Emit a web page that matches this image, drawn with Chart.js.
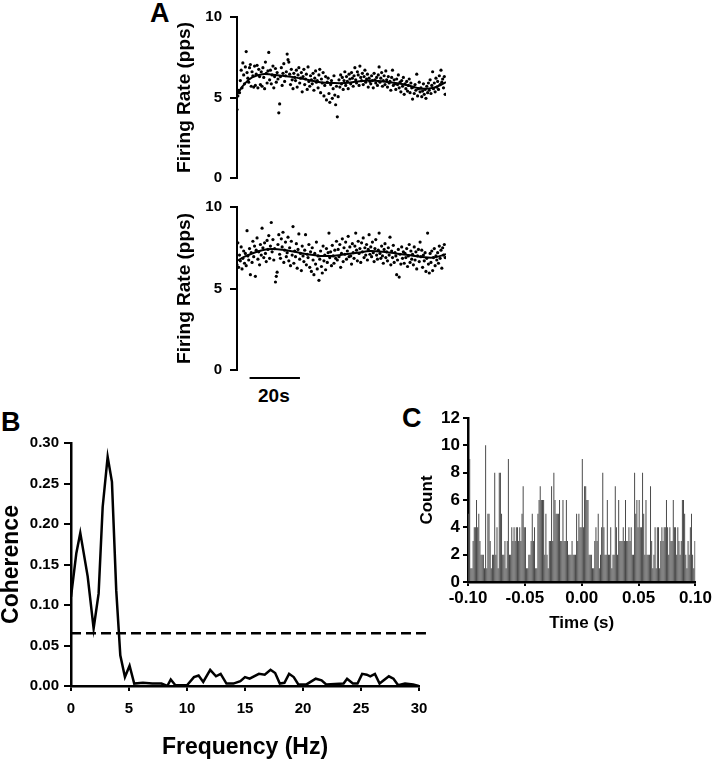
<!DOCTYPE html>
<html><head><meta charset="utf-8">
<script src="https://cdn.jsdelivr.net/npm/chart.js@4.4.0/dist/chart.umd.min.js"></script>
<style>
body{margin:0;background:#fff;width:714px;height:759px;overflow:hidden;position:relative;font-family:'Liberation Sans',Arial,sans-serif;}
.box{position:absolute;}
.lbl{position:absolute;font-weight:bold;line-height:1;color:#000;white-space:nowrap;}
</style></head><body>
<div class="lbl" style="left:150px;top:0px;font-size:27px">A</div>
<div class="lbl" style="left:1px;top:409px;font-size:27px">B</div>
<div class="lbl" style="left:402px;top:405px;font-size:27px">C</div>
<div class="lbl" style="left:258px;top:386px;font-size:19px">20s</div>
<div class="box" style="left:140px;top:0px;width:320px;height:195px"><canvas id="a1" width="320" height="195"></canvas></div>
<div class="box" style="left:140px;top:190px;width:320px;height:200px"><canvas id="a2" width="320" height="200"></canvas></div>
<div class="box" style="left:0px;top:400px;width:440px;height:359px"><canvas id="b" width="440" height="359"></canvas></div>
<div class="box" style="left:400px;top:400px;width:314px;height:240px"><canvas id="c" width="314" height="240"></canvas></div>
<script>
// ---------- DATA ----------
const sampleStepA = 0.332; // seconds between firing-rate samples
const rateTop = [
4.25,5.10,5.45,5.30,6.05,6.70,5.60,7.15,6.40,5.85,
6.90,7.85,6.55,6.20,5.95,6.85,7.05,5.70,6.60,6.35,
5.65,6.95,5.75,6.45,7.00,5.60,6.75,6.30,5.80,6.60,
5.70,6.85,6.25,5.55,7.20,6.50,5.90,6.65,7.80,6.10,
6.70,5.85,6.40,6.95,5.60,6.30,6.80,5.95,6.55,6.15,
4.05,4.60,6.30,6.85,5.75,6.50,7.10,6.00,6.35,6.60,
7.70,7.35,7.20,6.45,5.80,6.75,6.10,5.55,6.50,6.25,
6.05,6.70,5.65,6.40,6.85,5.90,6.20,6.55,5.35,6.30,
6.75,5.80,6.15,6.45,5.50,6.90,6.00,5.70,6.35,6.10,
5.85,6.50,5.45,6.20,6.65,5.95,6.05,5.60,6.40,6.75,
5.30,6.15,5.90,6.55,5.10,5.75,6.30,4.85,5.95,6.20,
5.25,4.70,5.80,6.05,4.95,5.55,6.35,5.15,4.55,5.70,
3.80,5.05,6.10,5.65,6.40,5.85,6.25,5.50,6.05,6.60,
5.75,6.30,6.00,5.55,6.45,6.15,5.85,6.55,6.20,5.70,
6.35,6.85,6.10,5.90,6.60,6.40,5.75,6.95,6.25,6.05,
6.50,5.80,6.30,6.70,5.95,6.15,6.45,5.65,6.20,6.00,
5.85,6.35,6.05,5.60,6.50,6.10,5.90,6.25,5.75,6.40,
6.90,5.95,6.20,6.55,5.70,6.05,6.35,5.80,6.65,6.10,
5.65,6.30,5.90,6.00,5.45,6.25,6.70,5.75,6.10,5.85,
5.50,6.15,5.80,6.40,5.60,5.95,5.35,6.05,5.70,6.25,
5.20,5.85,5.55,6.00,5.40,5.75,6.15,5.30,5.90,5.60,
4.90,5.65,5.25,5.80,5.45,6.45,5.10,5.55,5.95,5.35,
5.60,5.05,5.40,5.85,5.20,5.50,4.95,5.70,5.30,5.90,
5.45,6.10,5.25,5.75,6.60,5.55,5.90,5.35,6.20,5.65,
6.00,5.50,6.35,5.80,6.70,5.95,6.15,5.60,6.30,5.20];
const rateBottom = [
6.45,7.80,6.30,7.05,6.70,7.55,6.20,6.85,7.30,6.55,
7.15,6.40,8.55,7.00,6.75,7.45,5.85,7.20,6.60,7.90,
6.95,7.60,5.75,7.35,8.10,6.80,7.25,6.45,7.70,7.05,
8.70,7.50,6.90,7.80,7.15,6.65,7.95,7.40,8.25,6.85,
7.60,9.05,7.25,8.00,6.75,7.45,5.40,5.75,6.00,7.70,
8.30,7.10,6.85,8.05,7.55,8.45,6.60,7.35,7.85,6.95,
7.20,8.15,6.70,7.50,6.40,7.90,7.05,8.80,6.55,7.30,
6.95,7.75,6.25,7.40,8.35,6.80,7.15,6.10,7.60,7.00,
6.65,7.35,8.30,6.45,7.10,6.90,7.70,6.30,7.25,6.05,
7.50,6.75,5.85,7.15,6.50,7.85,6.20,7.00,5.50,6.80,
7.30,6.35,5.95,7.60,6.70,7.05,6.15,7.45,6.60,7.20,
8.40,6.90,7.25,6.40,7.65,7.00,6.55,7.35,6.85,7.90,
6.75,7.40,6.95,7.70,6.30,7.15,8.05,6.65,7.50,7.10,
7.85,6.80,7.30,8.20,6.95,7.55,7.00,6.50,7.75,7.20,
6.85,7.60,8.40,7.35,6.70,7.90,7.15,7.45,6.60,7.80,
7.25,8.10,6.90,7.50,7.05,7.70,6.75,7.40,8.30,7.10,
7.55,6.95,7.85,7.20,6.65,7.45,8.00,7.05,6.80,7.35,
8.40,7.15,6.85,7.60,7.00,6.55,7.40,7.75,6.90,7.25,
6.70,7.50,7.05,8.15,6.45,7.30,6.90,7.65,6.60,7.20,
7.00,5.85,6.75,7.40,5.70,7.10,6.50,7.55,6.85,7.25,
6.55,7.15,6.90,7.45,6.35,7.00,7.70,6.60,7.30,6.80,
7.10,6.45,7.55,6.75,7.25,6.20,7.00,7.40,6.65,7.85,
6.95,7.35,6.30,7.05,6.70,7.20,6.05,6.85,8.40,6.50,
5.95,7.15,6.60,7.30,6.10,6.90,7.45,6.40,7.00,6.75,
7.20,6.55,7.60,6.85,7.35,6.25,7.50,7.05,7.70,6.90];
const trendTimes  = [0,3,6,10,14,18,23,28,33,38,43,48,53,58,63,68,73,78,83];
const trendTop    = [5.2,5.85,6.25,6.45,6.42,6.35,6.25,6.1,5.95,5.9,5.9,6.0,6.05,6.0,5.9,5.75,5.55,5.6,5.95];
const trendBottom = [6.7,6.95,7.15,7.35,7.42,7.38,7.25,7.1,7.0,7.0,7.1,7.2,7.3,7.25,7.15,7.05,6.95,6.9,7.1];
const rateTicks = [0,5,10];
const scaleBar = [5,25]; // seconds (20 s bar)

const cohFreq = [0,0.46,0.8,1.44,1.95,2.38,2.73,3.16,3.53,3.9,4.25,4.65,5.05,5.45,6.2,7.0,7.8,8.3,8.6,9.0,
 10.0,10.6,11.0,11.4,12.0,12.5,12.9,13.4,14.0,14.6,15.0,15.4,16.2,16.7,17.2,17.6,18.0,18.4,18.8,19.2,
 19.6,20.3,21.1,21.6,22.0,23.5,23.8,24.3,24.7,25.1,25.5,25.8,26.2,26.6,27.4,27.8,28.2,28.8,29.5,30];
const cohValues = [0.110,0.164,0.189,0.135,0.071,0.114,0.221,0.283,0.252,0.118,0.038,0.011,0.025,0.003,0.004,0.003,0.003,0.000,0.008,0.001,
 0.001,0.011,0.013,0.005,0.020,0.012,0.015,0.003,0.003,0.006,0.011,0.009,0.015,0.014,0.020,0.016,0.003,0.004,0.015,0.011,
 0.002,0.002,0.009,0.007,0.002,0.003,0.009,0.003,0.003,0.015,0.014,0.012,0.015,0.003,0.012,0.009,0.001,0.003,0.002,0.000];
const cohThreshold = 0.065;
const cohThresholdRange = [0, 30.6];

const histBinStart = -0.1, histBinWidth = 0.001;
const histCounts = [
5,9,1,1,3,4,4,6,4,5, 3,2,2,2,1,10,1,5,5,3, 1,2,2,8,2,4,1,8,8,5, 2,2,3,1,3,9,2,2,4,3,
4,3,4,4,3,4,3,5,7,4, 4,1,1,2,2,3,5,3,4,1, 1,5,6,7,6,6,6,2,5,2, 1,3,3,7,3,8,6,5,5,5,
6,3,3,6,3,3,6,3,2,2, 2,3,2,2,2,5,3,5,4,4, 9,4,7,7,6,6,2,2,2,1, 1,3,4,3,5,1,2,4,8,4,
2,2,6,2,2,4,1,2,2,7, 4,2,6,3,3,3,4,3,6,3, 3,4,3,4,2,2,8,5,6,4, 6,4,4,8,5,2,6,2,2,2,
7,3,1,2,4,1,4,4,1,3, 4,3,4,4,6,4,2,4,3,3, 6,4,4,2,4,3,2,3,6,6, 5,2,1,3,2,4,5,2,1,3];

// ---------- CHARTS ----------
const FF = "'Liberation Sans', Arial, sans-serif";
Chart.defaults.font.family = FF;
Chart.defaults.color = '#000';
Chart.defaults.animation = false;

function pts(xs, ys){ return ys.map((v,i)=>({x:xs[i], y:v})); }
const rateTimes = rateTop.map((_,i)=>i*sampleStepA);

function rateChart(id, rates, trend, withBar){
  const plugins = [];
  if (withBar) plugins.push({id:'scalebar', afterDraw(ch){
    const xs = ch.scales.x, ctx = ch.ctx;
    const y = ch.chartArea.bottom + 8;
    ctx.save(); ctx.strokeStyle='#000'; ctx.lineWidth=2;
    ctx.beginPath(); ctx.moveTo(xs.getPixelForValue(scaleBar[0]), y);
    ctx.lineTo(xs.getPixelForValue(scaleBar[1]), y); ctx.stroke(); ctx.restore();
  }});
  return new Chart(document.getElementById(id), {
    type:'scatter',
    data:{datasets:[
      {data:pts(rateTimes, rates), pointRadius:1.6, pointBackgroundColor:'#000', pointBorderWidth:0, showLine:false},
      {data:pts(trendTimes, trend), showLine:true, borderColor:'#000', borderWidth:2, pointRadius:0, tension:0.4, fill:false}
    ]},
    options:{
      responsive:false, events:[],
      layout:{padding:{left:0, top:14, right:14, bottom: withBar?20:15}},
      plugins:{legend:{display:false}, tooltip:{enabled:false}},
      scales:{
        x:{type:'linear', min:0, max:83, display:false},
        y:{min:0, max:10, afterBuildTicks(s){ s.ticks = rateTicks.map(v=>({value:v})); },
           afterFit(s){ s.width = 97; },
           ticks:{font:{size:15, weight:'bold'}, padding:8},
           grid:{display:true, drawOnChartArea:false, drawTicks:true, tickLength:7, color:'#000', lineWidth:2},
           border:{display:true, color:'#000', width:2},
           title:{display:true, text:'Firing Rate (pps)', font:{size:19, weight:'bold', lineHeight:1.0}, padding:{top:35, bottom:0}}
        }
      }
    },
    plugins
  });
}
rateChart('a1', rateTop, trendTop, false);
rateChart('a2', rateBottom, trendBottom, true);

new Chart(document.getElementById('b'), {
  type:'scatter',
  data:{datasets:[
    {data:pts(cohFreq, cohValues), showLine:true, borderColor:'#000', borderWidth:2.5, pointRadius:0, tension:0, fill:false},
    {data:cohThresholdRange.map(x=>({x, y:cohThreshold})), showLine:true, borderColor:'#000', borderWidth:2.5, borderDash:[10,5], pointRadius:0, clip:false}
  ]},
  options:{
    responsive:false, events:[],
    layout:{padding:{left:0, top:43, right:21, bottom:0}},
    plugins:{legend:{display:false}, tooltip:{enabled:false}},
    scales:{
      x:{type:'linear', min:0, max:30, afterFit(s){ s.height = 73; },
         ticks:{stepSize:5, font:{size:15, weight:'bold'}, padding:9},
         grid:{display:true, drawOnChartArea:false, drawTicks:true, tickLength:5, color:'#000', lineWidth:2},
         border:{display:true, color:'#000', width:2.5},
         title:{display:true, text:'Frequency (Hz)', font:{size:23, weight:'bold', lineHeight:1.0}, padding:{top:0,bottom:0}}},
      y:{min:0, max:0.30, afterFit(s){ s.width = 71; },
         ticks:{stepSize:0.05, font:{size:15, weight:'bold'}, padding:5, callback:v=>(Math.abs(v)<1e-9?0:v).toFixed(2)},
         grid:{display:true, drawOnChartArea:false, drawTicks:true, tickLength:7, color:'#000', lineWidth:2},
         border:{display:true, color:'#000', width:2.5},
         title:{display:true, text:'Coherence', font:{size:23, weight:'bold', lineHeight:1.0}, padding:{top:0,bottom:0}}}
    }
  }
});

const histCenters = histCounts.map((_,i)=>histBinStart + histBinWidth*(i+0.5));
new Chart(document.getElementById('c'), {
  type:'bar',
  data:{datasets:[{data:pts(histCenters, histCounts), backgroundColor:'#454545', borderWidth:0, barPercentage:0.85, categoryPercentage:1}]},
  options:{
    responsive:false, events:[],
    layout:{padding:{left:0, top:18, right:15, bottom:0}},
    plugins:{legend:{display:false}, tooltip:{enabled:false}},
    scales:{
      x:{type:'linear', min:-0.1, max:0.1, offset:false, afterFit(s){ s.height = 58; },
         ticks:{stepSize:0.05, font:{size:17, weight:'bold'}, padding:2, callback:v=>(Math.abs(v)<1e-9?0:v).toFixed(2)},
         grid:{display:true, offset:false, drawOnChartArea:false, drawTicks:true, tickLength:4, color:'#000', lineWidth:2},
         border:{display:true, color:'#000', width:2.5},
         title:{display:true, text:'Time (s)', font:{size:17, weight:'bold'}, padding:{top:0,bottom:6}}},
      y:{min:0, max:12, afterFit(s){ s.width = 68; },
         ticks:{stepSize:2, font:{size:17, weight:'bold'}, padding:3},
         grid:{display:true, drawOnChartArea:false, drawTicks:true, tickLength:5, color:'#000', lineWidth:2},
         border:{display:true, color:'#000', width:2.5},
         title:{display:true, text:'Count', font:{size:17, weight:'bold'}, padding:{top:17,bottom:0}}}
    }
  }
});
</script>
</body></html>
